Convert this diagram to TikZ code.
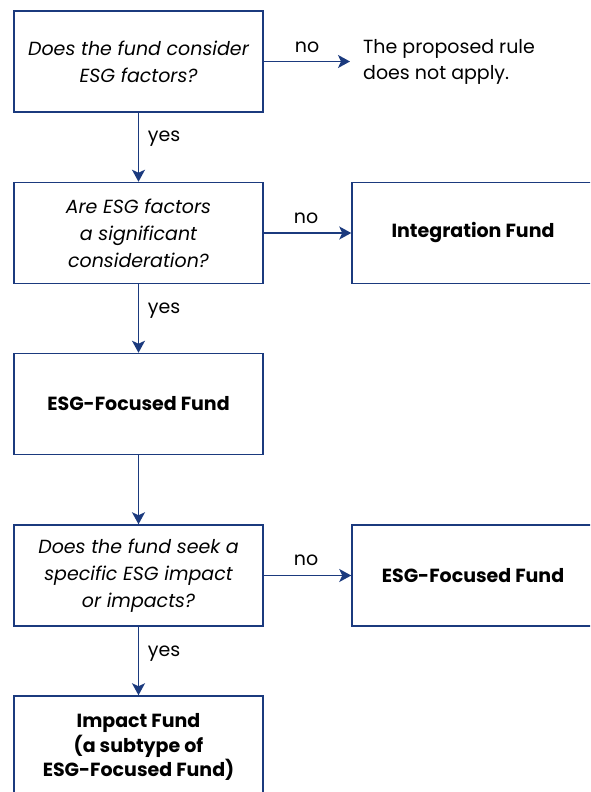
\documentclass[tikz,border=0pt]{standalone}
\usepackage{fontspec}
\setmainfont{Poppins}
\usetikzlibrary{arrows.meta}
\definecolor{navy}{HTML}{1B3A7E}
\begin{document}
\begin{tikzpicture}[x=1pt,y=-1pt,
  box/.style={draw=navy,line width=1.5pt,rectangle,inner sep=0pt,
    align=center},
  leftbox/.style={box,minimum width=249pt,minimum height=101pt},
  rightbox/.style={box,minimum width=242pt,minimum height=101pt},
  question/.style={font=\fontsize{19}{27}\selectfont\itshape},
  result/.style={font=\fontsize{19}{24.5}\selectfont\bfseries},
  flow/.style={draw=navy,line width=1.6pt,
    -{Stealth[length=12pt,width=13pt,inset=3pt]}},
  lbl/.style={font=\fontsize{19}{20}\selectfont,inner sep=0pt}]
\useasboundingbox (0,0) rectangle (590,792);
\clip (0,0) rectangle (590,792);

% decision column
\node[leftbox,question] (q1) at (138.5,61.5) {Does the fund consider\\ESG factors?};
\node[leftbox,question] (q2) at (138.5,233) {Are ESG factors\\a significant\\consideration?};
\node[leftbox,result]   (f1) at (138.5,404) {ESG-Focused Fund};
\node[leftbox,question] (q3) at (138.5,575.5) {Does the fund seek a\\specific ESG impact\\or impacts?};
\node[leftbox,result,minimum height=102pt] (f3) at (138.5,747) {Impact Fund\\(a subtype of\\ESG-Focused Fund)};

% outcomes on the right
\node[anchor=west,align=left,inner sep=0pt,font=\fontsize{19}{26}\selectfont] (na) at (363,61.5) {The proposed rule\\does not apply.};
\node[rightbox,result] (r1) at (473,233) {Integration Fund};
\node[rightbox,result] (r2) at (473,575.5) {ESG-Focused Fund};
\coordinate (naend) at (350,61.5);

% connectors
\draw[flow] (q1.east) -- (naend);
\draw[flow] (q1.south) -- (q2.north);
\draw[flow] (q2.east) -- (r1.west);
\draw[flow] (q2.south) -- (f1.north);
\draw[flow] (f1.south) -- (q3.north);
\draw[flow] (q3.east) -- (r2.west);
\draw[flow] (q3.south) -- (f3.north);

% branch labels
\node[lbl] (n1) at (307,47) {no};
\node[lbl] (n2) at (306,218) {no};
\node[lbl] (n3) at (306,560) {no};
\node[lbl] (y1) at (164,139) {yes};
\node[lbl] (y2) at (164,311) {yes};
\node[lbl] (y3) at (164,654) {yes};
\end{tikzpicture}
\end{document}
